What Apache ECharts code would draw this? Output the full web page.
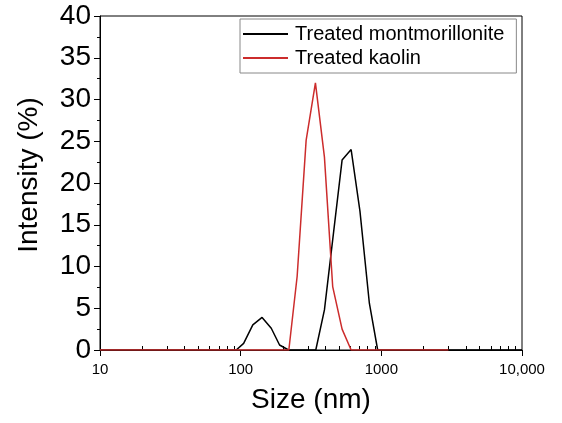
<!DOCTYPE html>
<html>
<head>
<meta charset="utf-8">
<script src="https://cdn.jsdelivr.net/npm/echarts@6/dist/echarts.min.js"></script>
<style>html,body{margin:0;padding:0;background:#fff}#c{width:562px;height:423px}</style>
</head>
<body>
<div id="c"></div>
<script>
const sizeMont = [10, 93, 105, 122, 142, 165, 189, 219, 342, 394, 526, 610, 705, 822, 942, 10000];
const intensityMont = [0, 0, 0.8, 3.0, 3.9, 2.6, 0.6, 0, 0, 4.8, 22.75, 24.0, 16.6, 5.6, 0, 0];
const sizeKaolin = [10, 220, 252, 292, 340, 394, 451, 526, 610, 3000];
const intensityKaolin = [0, 0, 8.8, 25.1, 32.0, 23.1, 7.6, 2.5, 0, 0];
const xMajorTicks = [10, 100, 1000, 10000];
const xTickLabels = ['10', '100', '1000', '10,000'];
const xMinorTicks = [20,30,40,50,60,70,80,90,200,300,400,500,600,700,800,900,2000,3000,4000,5000,6000,7000,8000,9000];
const seriesNames = ['Treated montmorillonite', 'Treated kaolin'];

const font = 'Liberation Sans, Arial, sans-serif';
const chart = echarts.init(document.getElementById('c'));
chart.setOption({
  animation: false,
  backgroundColor: '#fff',
  grid: { left: 100, top: 16, right: 40, bottom: 73, show: true, borderColor: '#000', borderWidth: 1 },
  legend: {
    orient: 'vertical', left: 240, top: 19,
    padding: [5, 12, 5, 3], itemGap: 4,
    itemWidth: 45, itemHeight: 2, icon: 'rect',
    borderColor: '#888', borderWidth: 1, backgroundColor: '#fff',
    textStyle: { fontFamily: font, fontSize: 20, color: '#000', padding: [0,0,0,2] },
    data: seriesNames
  },
  xAxis: [{
    type: 'log', logBase: 10, min: 10, max: 10000, position: 'bottom',
    name: 'Size (nm)', nameLocation: 'middle', nameGap: 36,
    nameTextStyle: { fontFamily: font, fontSize: 28, color: '#000' },
    axisLine: { lineStyle: { color: '#000', width: 1 } },
    axisTick: { show: true, inside: false, length: 6, lineStyle: { color: '#000' }, customValues: xMajorTicks },
    axisLabel: { fontFamily: font, fontSize: 15, color: '#000', margin: 12,
      customValues: xMajorTicks,
      formatter: v => xTickLabels[xMajorTicks.indexOf(Math.round(v))] || '' },
    splitLine: { show: false }
  }, {
    type: 'log', logBase: 10, min: 10, max: 10000, position: 'bottom',
    axisLine: { show: false },
    axisTick: { show: true, inside: true, length: 4, lineStyle: { color: '#000' }, customValues: xMinorTicks },
    axisLabel: { show: false },
    splitLine: { show: false }
  }],
  yAxis: {
    type: 'value', min: 0, max: 40, interval: 5,
    name: 'Intensity (%)', nameLocation: 'middle', nameGap: 57,
    nameTextStyle: { fontFamily: font, fontSize: 28, color: '#000', padding: [0,0,0,16] },
    axisLine: { show: true, lineStyle: { color: '#000', width: 1 } },
    axisTick: { show: true, inside: false, length: 6, lineStyle: { color: '#000' } },
    minorTick: { show: true, splitNumber: 2, length: 3, lineStyle: { color: '#000' } },
    axisLabel: { fontFamily: font, fontSize: 28, color: '#000', margin: 9 },
    splitLine: { show: false }
  },
  series: [{
    name: seriesNames[0], type: 'line', symbol: 'none',
    lineStyle: { color: '#000', width: 1.5 }, itemStyle: { color: '#000' },
    data: sizeMont.map((s, i) => [s, intensityMont[i]])
  }, {
    name: seriesNames[1], type: 'line', symbol: 'none',
    lineStyle: { color: '#cc2c2c', width: 1.5 }, itemStyle: { color: '#cc2c2c' },
    data: sizeKaolin.map((s, i) => [s, intensityKaolin[i]])
  }]
});
</script>
</body>
</html>
